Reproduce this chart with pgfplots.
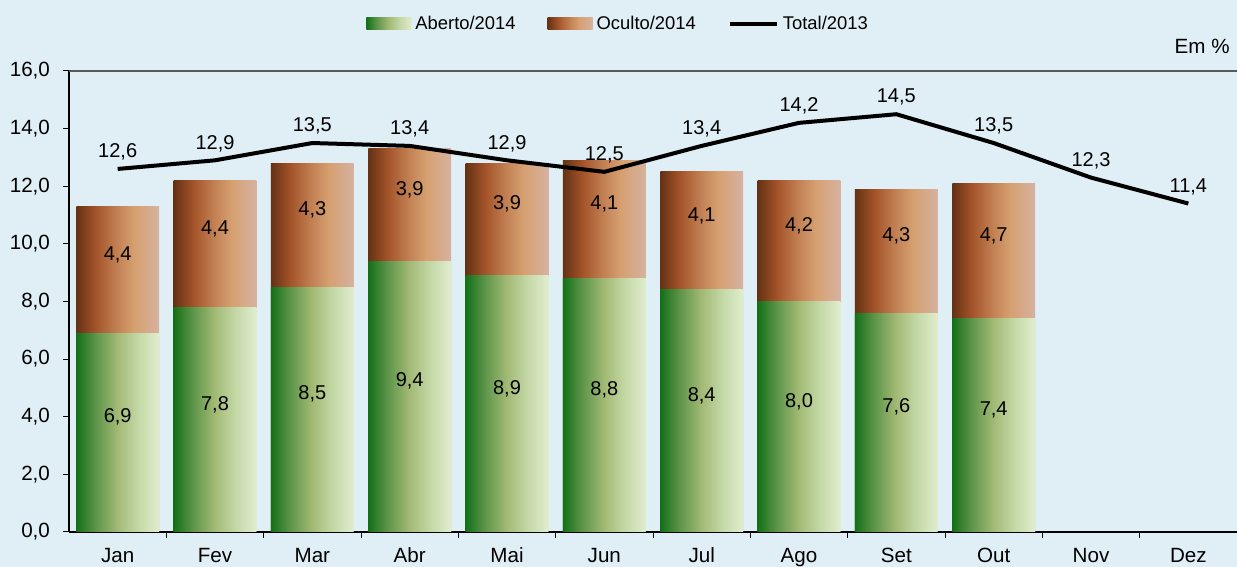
\documentclass[border=0pt]{standalone}
\usepackage{pgfplots}
\pgfplotsset{compat=1.18}
\usepackage{fontspec}
\setmainfont{Liberation Sans}

\definecolor{bgcol}{RGB}{224,238,245}
\definecolor{gA}{RGB}{20,112,24}
\definecolor{gB}{RGB}{95,150,75}
\definecolor{gC}{RGB}{163,186,117}
\definecolor{gD}{RGB}{195,215,165}
\definecolor{gE}{RGB}{224,237,206}
\definecolor{bA}{RGB}{100,50,20}
\definecolor{bB}{RGB}{165,84,42}
\definecolor{bC}{RGB}{195,130,85}
\definecolor{bD}{RGB}{214,160,112}
\definecolor{bE}{RGB}{214,178,160}

\pgfdeclarehorizontalshading{greensh}{100bp}{color(0bp)=(gA); color(25bp)=(gA); color(37bp)=(gB); color(50bp)=(gC); color(62bp)=(gD); color(75bp)=(gE); color(100bp)=(gE)}
\pgfdeclarehorizontalshading{brownsh}{100bp}{color(0bp)=(bA); color(25bp)=(bA); color(37bp)=(bB); color(50bp)=(bC); color(60bp)=(bD); color(75bp)=(bE); color(100bp)=(bE)}

\pgfplotsset{
  barbase/.style={ybar, bar width=0.85, /pgf/bar shift=0pt, draw=none, forget plot},
  greenbar/.style={barbase, shade, shading=greensh},
  brownbar/.style={barbase, shade, shading=brownsh},
  barleg/.style={legend image code/.code={\path[##1] (0pt,-3pt) rectangle (22.5pt,3pt);}},
  lineleg/.style={legend image code/.code={\draw[##1] (0pt,0pt) -- (23.5pt,0pt);}},
  vallabel/.style={nodes near coords={\pgfmathprintnumber[fixed, fixed zerofill, precision=1, use comma]{\pgfplotspointmeta}},
    every node near coords/.append style={inner sep=0pt, font=\fontsize{10.3}{12}\selectfont}},
  seglabel/.style={only marks, mark=none, forget plot, point meta=explicit, vallabel,
    every node near coords/.append style={anchor=center}},
}
% one bar per month: x, Aberto/2014, Aberto+Oculto (top of the stack)
\newcommand{\monthbar}[3]{%
  \addplot[brownbar] coordinates {(#1,#3)};
  \addplot[greenbar] coordinates {(#1,#2)};}

\begin{document}
\begin{tikzpicture}
\fill[bgcol, use as bounding box] (-34.5pt,-17.5pt) rectangle (584pt,266pt);
\begin{axis}[
  at={(0pt,0pt)}, anchor=south west,
  scale only axis, width=584pt, height=230.5pt,
  clip=false,
  xmin=-0.5, xmax=11.5, ymin=0, ymax=16,
  xtick={0,...,11},
  xticklabels={Jan,Fev,Mar,Abr,Mai,Jun,Jul,Ago,Set,Out,Nov,Dez},
  minor xtick={0.5,1.5,...,11.5},
  ytick={0,2,...,16},
  axis x line*=bottom, axis y line*=left,
  axis line style={black, line width=0.6pt},
  tick align=outside,
  major tick length=3pt, minor tick length=3pt,
  tick style={black, line width=0.5pt},
  major x tick style={draw=none},
  tick label style={font=\fontsize{10.3}{12}\selectfont},
  yticklabel style={/pgf/number format/fixed, /pgf/number format/fixed zerofill,
    /pgf/number format/precision=1, /pgf/number format/use comma, xshift=-3pt},
  xticklabel style={yshift=-1.5pt},
  /pgf/number format/assume math mode=true,
  legend style={at={(0.471,1.102)}, anchor=center, draw=none, fill=none,
    legend columns=3, font=\fontsize{9.2}{11}\selectfont,
    /tikz/every even column/.append style={column sep=14pt}},
]
\addlegendimage{shade, shading=greensh, draw=none, barleg}
\addlegendentry{Aberto/2014}
\addlegendimage{shade, shading=brownsh, draw=none, barleg}
\addlegendentry{Oculto/2014}
\addlegendimage{black, line width=2pt, lineleg}
\addlegendentry{Total/2013}

\monthbar{0}{6.9}{11.3}
\monthbar{1}{7.8}{12.2}
\monthbar{2}{8.5}{12.8}
\monthbar{3}{9.4}{13.3}
\monthbar{4}{8.9}{12.8}
\monthbar{5}{8.8}{12.9}
\monthbar{6}{8.4}{12.5}
\monthbar{7}{8.0}{12.2}
\monthbar{8}{7.6}{11.9}
\monthbar{9}{7.4}{12.1}

% Aberto/2014 labels, centred in the green part
\addplot[seglabel]
  coordinates {(0,3.45) [6.9] (1,3.9) [7.8] (2,4.25) [8.5] (3,4.7) [9.4] (4,4.45) [8.9]
    (5,4.4) [8.8] (6,4.2) [8.4] (7,4.0) [8.0] (8,3.8) [7.6] (9,3.7) [7.4]};
% Oculto/2014 labels, centred in the brown part
\addplot[seglabel]
  coordinates {(0,9.1) [4.4] (1,10.0) [4.4] (2,10.65) [4.3] (3,11.35) [3.9] (4,10.85) [3.9]
    (5,10.85) [4.1] (6,10.45) [4.1] (7,10.1) [4.2] (8,9.75) [4.3] (9,9.75) [4.7]};

\addplot[sharp plot, black, line width=2pt, mark=none, forget plot, vallabel,
  every node near coords/.append style={anchor=south, yshift=7.5pt}]
  coordinates {(0,12.6) (1,12.9) (2,13.5) (3,13.4) (4,12.9) (5,12.5) (6,13.4) (7,14.2) (8,14.5) (9,13.5) (10,12.3) (11,11.4)};

\draw[black!65, line width=0.6pt] (rel axis cs:0,1) -- (rel axis cs:1,1);
\node[anchor=east, inner sep=0pt, font=\fontsize{10.3}{12}\selectfont] at (rel axis cs:0.994,1.054) {Em \%};
\end{axis}
\end{tikzpicture}
\end{document}
